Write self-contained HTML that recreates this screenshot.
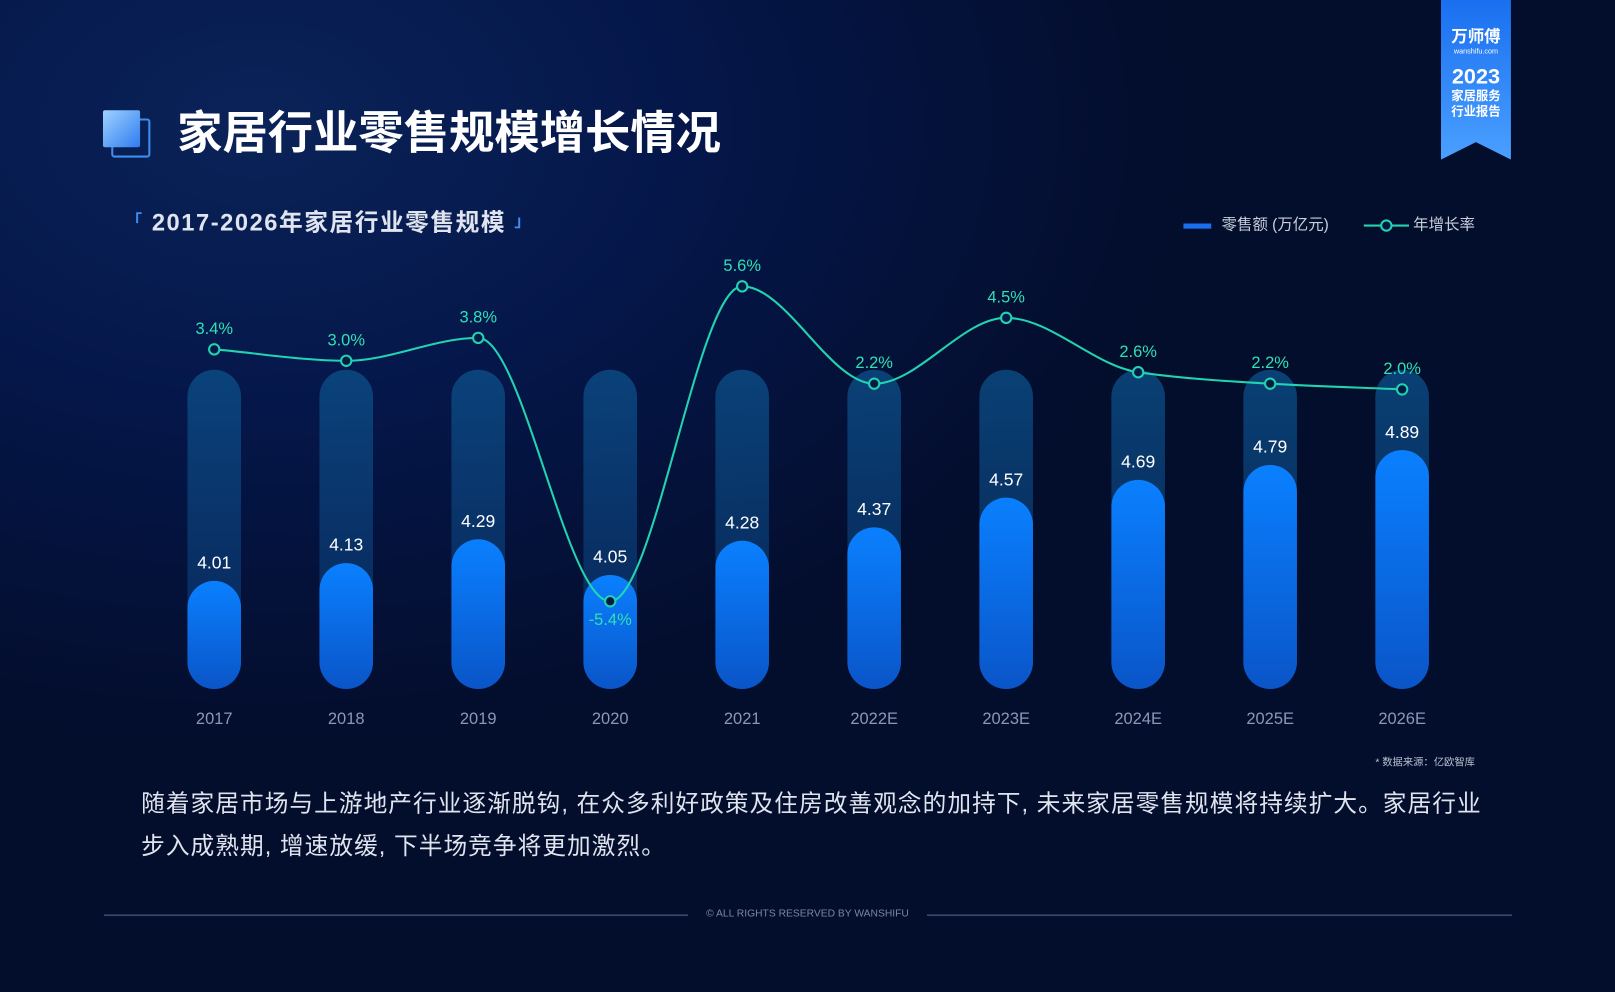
<!DOCTYPE html>
<html><head><meta charset="utf-8"><style>
html,body{margin:0;padding:0;width:1615px;height:992px;overflow:hidden;background:#030d2c}
#wrap{position:absolute;left:0;top:0;width:1568px;height:963px;transform:scale(1.02997);transform-origin:0 0;
background:radial-gradient(ellipse 900px 600px at 250px 120px,#0a2358 0%,#05174a 45%,#030d2c 100%);
font-family:"Liberation Sans","Noto Sans CJK SC",sans-serif;color:#fff}
.abs{position:absolute}
</style></head><body><div id="wrap">
<div class="abs" style="left:100px;top:107px;width:45px;height:45px">
 <div class="abs" style="left:8px;top:8px;width:34px;height:34px;border:2px solid #3f8df0;border-radius:3px"></div>
 <div class="abs" style="left:0;top:0;width:36px;height:36px;background:linear-gradient(135deg,#9fd2ff,#2f7cf0);border-radius:2px"></div>
</div>
<div class="abs" style="left:172px;top:100px;font-size:44px;font-weight:bold;line-height:60px">家居行业零售规模增长情况</div>
<div class="abs" style="left:1399px;top:0;width:68px;height:155px;background:linear-gradient(#1a6ff0,#4aa0ff);clip-path:polygon(0 0,100% 0,100% 100%,50% 89%,0 100%);text-align:center">
 <div style="font-size:16px;font-weight:bold;margin-top:28px;line-height:18px">万师傅</div>
 <div style="font-size:7px;line-height:9px">wanshifu.com</div>
 <div style="font-size:21px;font-weight:bold;margin-top:9px;line-height:22px">2023</div>
 <div style="font-size:12px;font-weight:bold;line-height:15px">家居服务<br>行业报告</div>
</div>
<div class="abs" style="left:122px;top:201px;font-size:23px;letter-spacing:1.5px;font-weight:bold;color:#dfe4ee;line-height:30px"><span style="color:#3f8df0;font-size:16px;vertical-align:top">「</span> 2017-2026年家居行业零售规模 <span style="color:#3f8df0;font-size:16px;vertical-align:bottom">」</span></div>
<div class="abs" style="left:1149px;top:208px;font-size:15px;color:#c8cfdc;line-height:22px"><span style="display:inline-block;width:27px;height:5px;background:#1a6ff0;vertical-align:middle;margin-right:10px"></span>零售额 (万亿元)</div>
<div class="abs" style="left:1324px;top:208px;font-size:15px;color:#c8cfdc;line-height:22px"><svg width="44" height="14" style="vertical-align:middle;margin-right:4px"><line x1="0" y1="7" x2="44" y2="7" stroke="#22d3b0" stroke-width="2"/><circle cx="22" cy="7" r="5" fill="#061540" stroke="#22d3b0" stroke-width="2"/></svg>年增长率</div>
<svg id="chart" class="abs" style="left:0;top:0" width="1568" height="963">
<defs>
<linearGradient id="bg" x1="0" y1="0" x2="0" y2="1"><stop offset="0" stop-color="#0b4d86" stop-opacity="0.8"/><stop offset="1" stop-color="#0b3470" stop-opacity="0.6"/></linearGradient>
<linearGradient id="fg" x1="0" y1="0" x2="0" y2="1"><stop offset="0" stop-color="#0a80ff"/><stop offset="1" stop-color="#0a55c8"/></linearGradient>
</defs>
</svg>
<div class="abs" style="right:136px;top:731px;font-size:10px;color:#b8c0d0">* 数据来源：亿欧智库</div>
<div class="abs" style="left:137px;top:760px;width:1330px;font-size:23px;letter-spacing:1px;color:#dfe4ee;line-height:41px;white-space:nowrap">随着家居市场与上游地产行业逐渐脱钩, 在众多利好政策及住房改善观念的加持下, 未来家居零售规模将持续扩大。家居行业<br>步入成熟期, 增速放缓, 下半场竞争将更加激烈。</div>
<div class="abs" style="left:101px;top:888px;width:567px;height:1px;background:#5a6a88"></div>
<div class="abs" style="left:900px;top:888px;width:568px;height:1px;background:#5a6a88"></div>
<div class="abs" style="left:668px;width:232px;top:882px;text-align:center;font-size:10px;color:#7a88a4">© ALL RIGHTS RESERVED BY WANSHIFU</div>
</div>
<script>
const categories=["2017","2018","2019","2020","2021","2022E","2023E","2024E","2025E","2026E"];
const salesValues=[4.01,4.13,4.29,4.05,4.28,4.37,4.57,4.69,4.79,4.89];
const growthValues=[3.4,3.0,3.8,-5.4,5.6,2.2,4.5,2.6,2.2,2.0];
const growthLabels=["3.4%","3.0%","3.8%","-5.4%","5.6%","2.2%","4.5%","2.6%","2.2%","2.0%"];
const NS="http://www.w3.org/2000/svg";
const svg=document.getElementById('chart');
const xPos=i=>208+i*128.15;
const yBar=v=>564-(v-4.01)*144.3;
const yLine=v=>278+(5.6-v)*27.8;
const base=669,bw=52,r=26;
function mk(t,a){const e=document.createElementNS(NS,t);for(const k in a)e.setAttribute(k,a[k]);svg.appendChild(e);return e;}
categories.forEach((c,i)=>{
 const x=xPos(i);
 const b=mk('rect',{x:x-bw/2,y:359,width:bw,height:base-359,rx:r,fill:'url(#bg)'});
 
 
 const t=yBar(salesValues[i]);
 const f=mk('rect',{x:x-bw/2,y:t,width:bw,height:base-t,rx:r,fill:'url(#fg)'});
 
 
 const l=mk('text',{x:x,y:t-12,'text-anchor':'middle','font-size':17,fill:'#fff','font-family':'Liberation Sans, sans-serif'});
 l.textContent=salesValues[i].toFixed(2);
 
 
 const xl=mk('text',{x:x,y:703,'text-anchor':'middle','font-size':16,fill:'#8a98b6','font-family':'Liberation Sans, sans-serif'});
 xl.textContent=c;
 
 
});
const pts=growthValues.map((v,i)=>[xPos(i),yLine(v)]);
const n=pts.length,sl=[],m=[];
for(let i=0;i<n-1;i++)sl.push((pts[i+1][1]-pts[i][1])/(pts[i+1][0]-pts[i][0]));
for(let i=0;i<n;i++){
 if(i===0)m.push(sl[0]);else if(i===n-1)m.push(sl[n-2]);
 else m.push(sl[i-1]*sl[i]<=0?0:2/(1/sl[i-1]+1/sl[i]));
}
let d='M'+pts[0][0]+','+pts[0][1];
for(let i=0;i<n-1;i++){
 const h=(pts[i+1][0]-pts[i][0])/3;
 d+=' C'+(pts[i][0]+h)+','+(pts[i][1]+m[i]*h)+' '+(pts[i+1][0]-h)+','+(pts[i+1][1]-m[i+1]*h)+' '+pts[i+1][0]+','+pts[i+1][1];
}
const line=mk('path',{d:d,fill:'none',stroke:'#22d3b0','stroke-width':2});


pts.forEach((p,i)=>{
 const c=mk('circle',{cx:p[0],cy:p[1],r:5,fill:'#061a48',stroke:'#22d3b0','stroke-width':2});
 
 
 const neg=growthValues[i]<0;
 const t=mk('text',{x:p[0],y:neg?p[1]+23:p[1]-15,'text-anchor':'middle','font-size':16,fill:'#2ee0b4','font-family':'Liberation Sans, sans-serif'});
 t.textContent=growthLabels[i];
 
 
});
</script>
</body></html>
